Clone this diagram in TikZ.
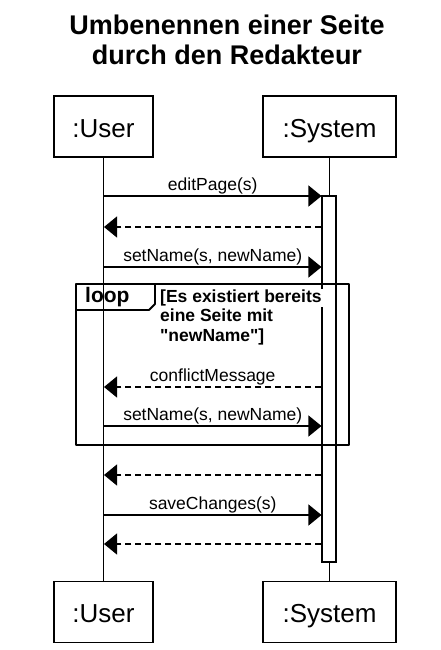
\documentclass[tikz,border=0pt]{standalone}
\usepackage{fontspec}
\setsansfont{Liberation Sans}[Ligatures=TeXOff]
\usetikzlibrary{arrows.meta,positioning}

\tikzset{
  actor/.style={draw,line width=1.2pt,minimum height=61pt,inner sep=0pt,
    text height=24pt,text depth=3pt,
    font=\sffamily\fontsize{26}{30}\selectfont},
  lifeline/.style={line width=1.1pt},
  actbar/.style={draw,fill=white,line width=1.1pt,minimum width=14pt,inner sep=0pt},
  msg/.style={line width=1.1pt,-{Triangle[length=13pt,width=21pt]}},
  reply/.style={msg,dash pattern=on 6pt off 4pt},
  msglabel/.style={above,inner sep=1pt,font=\sffamily\fontsize{17.5}{20}\selectfont},
  guard/.style={inner sep=1pt,align=left,font=\sffamily\bfseries\fontsize{17.5}{20.5}\selectfont}
}

\begin{document}
\begin{tikzpicture}[x=1pt,y=-1pt]
  \useasboundingbox (0,0) rectangle (441,650);
  % --- titre ---
  \node[anchor=north,align=center,inner sep=0pt,
    font=\sffamily\bfseries\fontsize{27}{30}\selectfont] (title) at (227,15)
    {Umbenennen einer Seite\\durch den Redakteur};
  % --- acteurs haut et bas ---
  \node[actor,minimum width=99pt]  (usertop) at (103.5,126.5) {:User};
  \node[actor,minimum width=133pt] (systop)  at (329.5,126.5) {:System};
  \node[actor,minimum width=99pt]  (userbot) at (103.5,612)   {:User};
  \node[actor,minimum width=133pt] (sysbot)  at (329.5,612)   {:System};
  % lignes de vie
  \draw[lifeline] (usertop.south) -- (userbot.north);
  \draw[lifeline] (systop.south) -- (sysbot.north);
  % barre d'activation
  \node[actbar,minimum height=366pt] (act) at (329,379) {};
  % points d'accroche des messages
  \foreach \i/\y in {1/196,2/227,3/267,4/387,5/426,6/475,7/515,8/544}{
    \coordinate (u\i) at (104,\y);
    \coordinate (s\i) at (act.west |- 0,\y);
  }
  % --- cadre loop ---
  \draw[line width=2.2pt,line join=round] (76,284) rectangle (349,445);
  \draw[line width=1.8pt,line join=round] (76,310) -- (149,310) -- (155,304) -- (155,284);
  \node[anchor=west,inner sep=0pt,font=\sffamily\bfseries\fontsize{21}{24}\selectfont]
    (looptag) at (85,297) {loop};
  \node[guard,fill=white,anchor=north west] (guard1) at (159,288.5) {[Es existiert bereits};
  \node[guard,anchor=north west] (guard2) at (guard1.south west)
    {eine Seite mit\\"newName"]};
  % --- messages ---
  \draw[msg]   (u1) -- (s1) node[msglabel,midway] {editPage(s)};
  \draw[reply] (s2) -- (u2);
  \draw[msg]   (u3) -- (s3) node[msglabel,midway] {setName(s, newName)};
  \draw[reply] (s4) -- (u4) node[msglabel,midway] {conflictMessage};
  \draw[msg]   (u5) -- (s5) node[msglabel,midway] {setName(s, newName)};
  \draw[reply] (s6) -- (u6);
  \draw[msg]   (u7) -- (s7) node[msglabel,midway] {saveChanges(s)};
  \draw[reply] (s8) -- (u8);
\end{tikzpicture}
\end{document}
